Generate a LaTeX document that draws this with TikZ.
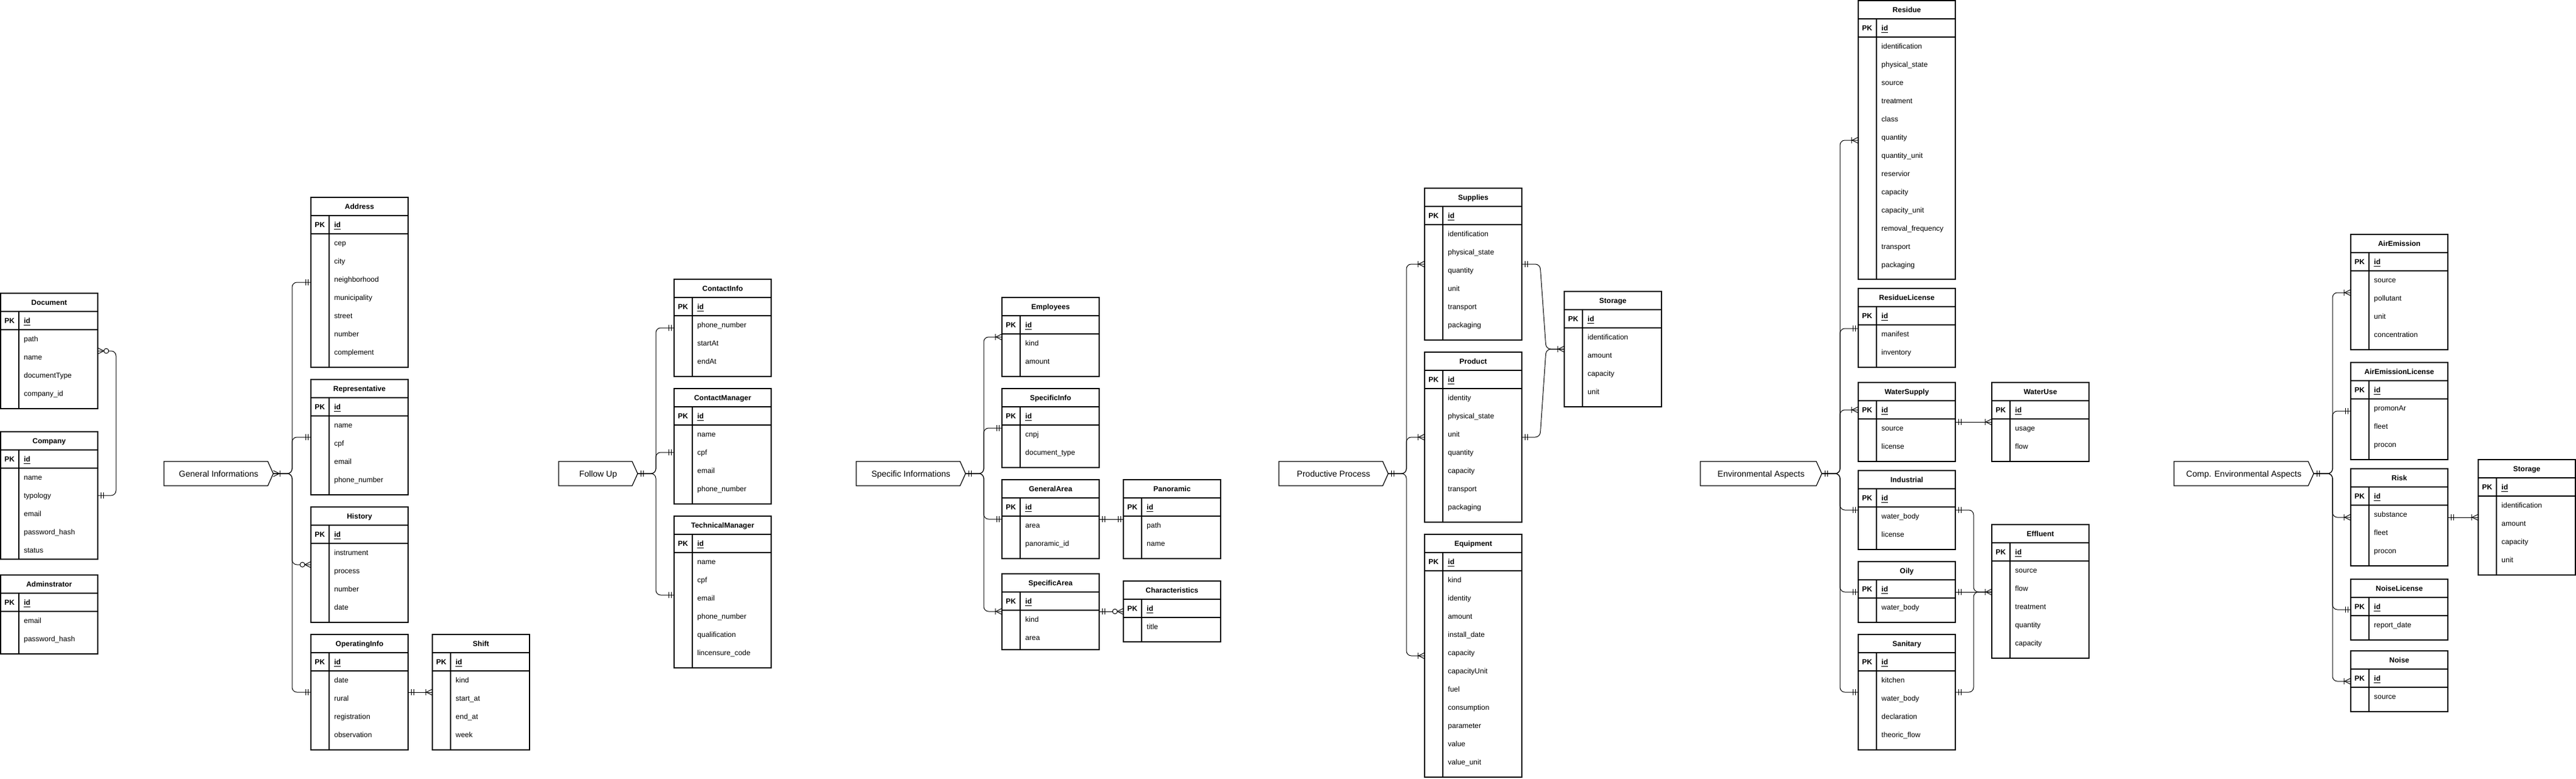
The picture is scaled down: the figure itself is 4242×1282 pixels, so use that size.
\documentclass[tikz,border=0pt]{standalone}
\usepackage{fontspec}
\setmainfont{Liberation Sans}
\newcommand{\fsz}{\fontsize{6}{7.2}\selectfont}
\newcommand{\lsz}{\fontsize{7}{8.4}\selectfont}
\tikzset{
  tblbox/.style={draw, anchor=north west, minimum width=80pt, inner sep=0pt, outer sep=0pt, line width=0.6pt},
  tblline/.style={line width=0.6pt},
  ttl/.style={anchor=base, inner sep=0pt, font=\fsz\bfseries},
  fld/.style={anchor=base west, inner sep=0pt, font=\fsz},
  plabel/.style={anchor=base, inner sep=0pt, font=\lsz},
  penta/.style={draw, line width=0.6pt},
  conn/.style={draw, line width=0.5pt},
  mandone/.pic={\draw[conn] (-5,-5) -- (-5,5) (-9,-5) -- (-9,5);},
  onemany/.pic={\draw[conn] (-10,0) -- (0,5) (-10,0) -- (0,-5) (-11,-5) -- (-11,5);},
  zeromany/.pic={\draw[conn] (-10,0) -- (0,5) (-10,0) -- (0,-5); \draw[conn, fill=white] (-14,0) circle[radius=2pt];},
}
% table: name, x, y, height, title, fields
\newcommand{\ertbl}[6]{%
  \node[tblbox, minimum height=#4*0.5pt] (#1) at (#2,#3) {};
  \draw[tblline] (#2,#3+30) -- ++(160,0) (#2,#3+60) -- ++(160,0) (#2+30,#3+30) -- (#2+30,#3+#4);
  \node[ttl] at (#2+80,#3+19.3) {#5};
  \node[fld] at (#2+6,#3+49.3) {\textbf{PK}};
  \node[fld] at (#2+38,#3+49.3) {\underline{\textbf{id}}};
  \foreach \f [count=\i] in {#6} {\node[fld] at (#2+38,#3+49.3+30*\i) {\f};}
}
% pentagon: tip name, left x, tip x, label
\newcommand{\penta}[4]{%
  \draw[penta] (#2,760) -- (#3-9,760) -- (#3,780) -- (#3-9,800) -- (#2,800) -- cycle;
  \coordinate (#1) at (#3,780);
  \node[plabel] (#1-lbl) at ({(#2+#3)/2},785) {#4};
}
% fan connector: source, vertical x, target table, y, marker
\newcommand{\fan}[5]{%
  \draw[conn, rounded corners=4pt] (#1) -- (#2,780) -- (#2,#4) -- (#3.west |- 0,#4);
  \pic at (#3.west |- 0,#4) {#5};
}
\begin{document}
\begin{tikzpicture}[x=0.5pt, y=-0.5pt]
\useasboundingbox (0,0) rectangle (4242,1282);

% ---------------- General Informations ----------------
\ertbl{doc}{1}{483}{190}{Document}{path,name,documentType,company\_id}
\ertbl{comp}{1}{711}{210}{Company}{name,typology,email,password\_hash,status}
\ertbl{adm}{1}{947}{130}{Adminstrator}{email,password\_hash}
\draw[conn, rounded corners=4pt] (doc.east |- 0,578) -- (191,578) -- (191,816) -- (comp.east |- 0,816);
\pic[rotate=180] at (doc.east |- 0,578) {zeromany};
\pic[rotate=180] at (comp.east |- 0,816) {mandone};

\penta{gi-t}{270}{450}{General Informations}
\ertbl{addr}{512}{325}{280}{Address}{cep,city,neighborhood,municipality,street,number,complement}
\ertbl{rep}{512}{625}{190}{Representative}{name,cpf,email,phone\_number}
\ertbl{hist}{512}{835}{190}{History}{instrument,process,number,date}
\ertbl{opinfo}{512}{1045}{190}{OperatingInfo}{date,rural,registration,observation}
\ertbl{shift}{712}{1045}{190}{Shift}{kind,start\_at,end\_at,week}
\fan{gi-t}{481}{addr}{465}{mandone}
\fan{gi-t}{481}{rep}{720}{mandone}
\fan{gi-t}{481}{hist}{930}{zeromany}
\fan{gi-t}{481}{opinfo}{1140}{mandone}
\pic[rotate=180] at (gi-t) {onemany};
\draw[conn] (opinfo.east |- 0,1140) -- (shift.west |- 0,1140);
\pic[rotate=180] at (opinfo.east |- 0,1140) {mandone};
\pic at (shift.west |- 0,1140) {onemany};

% ---------------- Follow Up ----------------
\penta{fu-t}{920}{1050}{Follow Up}
\ertbl{cinfo}{1110}{460}{160}{ContactInfo}{phone\_number,startAt,endAt}
\ertbl{cmgr}{1110}{640}{190}{ContactManager}{name,cpf,email,phone\_number}
\ertbl{tmgr}{1110}{850}{250}{TechnicalManager}{name,cpf,email,phone\_number,qualification,lincensure\_code}
\fan{fu-t}{1080}{cinfo}{540}{mandone}
\fan{fu-t}{1080}{cmgr}{745}{mandone}
\fan{fu-t}{1080}{tmgr}{980}{mandone}
\pic[rotate=180] at (fu-t) {mandone};

% ---------------- Specific Informations ----------------
\penta{si-t}{1410}{1590}{Specific Informations}
\ertbl{emp}{1650}{490}{130}{Employees}{kind,amount}
\ertbl{sinfo}{1650}{640}{130}{SpecificInfo}{cnpj,document\_type}
\ertbl{garea}{1650}{790}{130}{GeneralArea}{area,panoramic\_id}
\ertbl{sarea}{1650}{945}{125}{SpecificArea}{kind,area}
\ertbl{pano}{1850}{790}{130}{Panoramic}{path,name}
\ertbl{charac}{1850}{957}{100}{Characteristics}{title}
\fan{si-t}{1620}{emp}{555}{onemany}
\fan{si-t}{1620}{sinfo}{705}{mandone}
\fan{si-t}{1620}{garea}{855}{mandone}
\fan{si-t}{1620}{sarea}{1007}{onemany}
\pic[rotate=180] at (si-t) {mandone};
\draw[conn] (garea.east |- 0,855) -- (pano.west |- 0,855);
\pic[rotate=180] at (garea.east |- 0,855) {mandone};
\pic at (pano.west |- 0,855) {mandone};
\draw[conn] (sarea.east |- 0,1007) -- (charac.west |- 0,1007);
\pic[rotate=180] at (sarea.east |- 0,1007) {mandone};
\pic at (charac.west |- 0,1007) {zeromany};

% ---------------- Productive Process ----------------
\penta{pp-t}{2106}{2286}{Productive Process}
\ertbl{sup}{2346}{310}{250}{Supplies}{identification,physical\_state,quantity,unit,transport,packaging}
\ertbl{prod}{2346}{580}{280}{Product}{identity,physical\_state,unit,quantity,capacity,transport,packaging}
\ertbl{equip}{2346}{880}{400}{Equipment}{kind,identity,amount,install\_date,capacity,capacityUnit,fuel,consumption,parameter,value,value\_unit}
\ertbl{stor}{2576}{480}{190}{Storage}{identification,amount,capacity,unit}
\fan{pp-t}{2316}{sup}{435}{onemany}
\fan{pp-t}{2316}{prod}{720}{onemany}
\fan{pp-t}{2316}{equip}{1080}{onemany}
\pic[rotate=180] at (pp-t) {mandone};
\draw[conn, rounded corners=4pt] (sup.east |- 0,435) -- (2536,435) -- (2546,575) -- (stor.west |- 0,575);
\draw[conn, rounded corners=4pt] (prod.east |- 0,720) -- (2536,720) -- (2546,575) -- (stor.west |- 0,575);
\pic[rotate=180] at (sup.east |- 0,435) {mandone};
\pic[rotate=180] at (prod.east |- 0,720) {mandone};
\pic at (stor.west |- 0,575) {onemany};

% ---------------- Environmental Aspects ----------------
\penta{ea-t}{2800}{3000}{Environmental Aspects}
\ertbl{res}{3060}{1}{459}{Residue}{identification,physical\_state,source,treatment,class,quantity,quantity\_unit,reservior,capacity,capacity\_unit,removal\_frequency,transport,packaging}
\ertbl{reslic}{3060}{475}{130}{ResidueLicense}{manifest,inventory}
\ertbl{wsup}{3060}{630}{130}{WaterSupply}{source,license}
\ertbl{ind}{3060}{775}{130}{Industrial}{water\_body,license}
\ertbl{oily}{3060}{925}{100}{Oily}{water\_body}
\ertbl{san}{3060}{1045}{190}{Sanitary}{kitchen,water\_body,declaration,theoric\_flow}
\ertbl{wuse}{3280}{630}{130}{WaterUse}{usage,flow}
\ertbl{eff}{3280}{864}{220}{Effluent}{source,flow,treatment,quantity,capacity}
\fan{ea-t}{3030}{res}{231}{onemany}
\fan{ea-t}{3030}{reslic}{541}{mandone}
\fan{ea-t}{3030}{wsup}{675}{onemany}
\fan{ea-t}{3030}{ind}{840}{mandone}
\fan{ea-t}{3030}{oily}{975}{mandone}
\fan{ea-t}{3030}{san}{1140}{mandone}
\pic[rotate=180] at (ea-t) {mandone};
\draw[conn] (wsup.east |- 0,695) -- (wuse.west |- 0,695);
\pic[rotate=180] at (wsup.east |- 0,695) {mandone};
\pic at (wuse.west |- 0,695) {onemany};
\draw[conn, rounded corners=4pt] (ind.east |- 0,840) -- (3250,840) -- (3250,975) -- (eff.west |- 0,975);
\draw[conn] (oily.east |- 0,975) -- (eff.west |- 0,975);
\draw[conn, rounded corners=4pt] (san.east |- 0,1140) -- (3250,1140) -- (3250,975) -- (eff.west |- 0,975);
\pic[rotate=180] at (ind.east |- 0,840) {mandone};
\pic[rotate=180] at (oily.east |- 0,975) {mandone};
\pic[rotate=180] at (san.east |- 0,1140) {mandone};
\pic at (eff.west |- 0,975) {onemany};

% ---------------- Comp. Environmental Aspects ----------------
\penta{cea-t}{3580}{3810}{Comp. Environmental Aspects}
\ertbl{air}{3871}{386}{190}{AirEmission}{source,pollutant,unit,concentration}
\ertbl{airlic}{3871}{597}{160}{AirEmissionLicense}{promonAr,fleet,procon}
\ertbl{risk}{3871}{772}{160}{Risk}{substance,fleet,procon}
\ertbl{noislic}{3871}{954}{100}{NoiseLicense}{report\_date}
\ertbl{noise}{3871}{1072}{100}{Noise}{source}
\ertbl{stor2}{4081}{757}{190}{Storage}{identification,amount,capacity,unit}
\fan{cea-t}{3841}{air}{482}{onemany}
\fan{cea-t}{3841}{airlic}{677}{mandone}
\fan{cea-t}{3841}{risk}{852}{onemany}
\fan{cea-t}{3841}{noislic}{1004}{mandone}
\fan{cea-t}{3841}{noise}{1122}{onemany}
\pic[rotate=180] at (cea-t) {mandone};
\draw[conn] (risk.east |- 0,852) -- (stor2.west |- 0,852);
\pic[rotate=180] at (risk.east |- 0,852) {mandone};
\pic at (stor2.west |- 0,852) {onemany};
\end{tikzpicture}
\end{document}
